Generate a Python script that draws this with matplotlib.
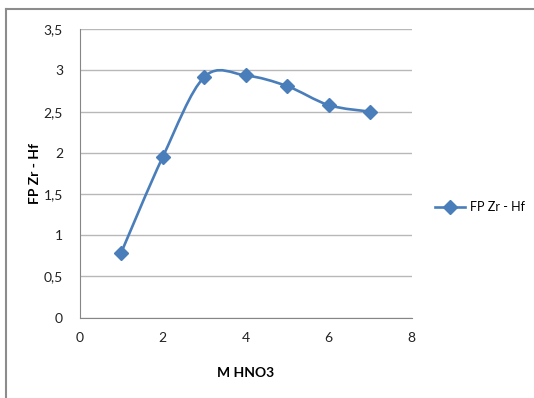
import matplotlib.pyplot as plt
from matplotlib.path import Path
from matplotlib.patches import PathPatch
from matplotlib.lines import Line2D

plt.rcParams['font.family'] = ['Lato', 'DejaVu Sans']

# FP Zr - Hf vs. HNO3 molarity
molarity = [1, 2, 3, 4, 5, 6, 7]
fp_zr_hf = [0.79, 1.95, 2.92, 2.94, 2.81, 2.58, 2.50]
y_ticks = [0, 0.5, 1, 1.5, 2, 2.5, 3, 3.5]
y_tick_labels = ['0', '0,5', '1', '1,5', '2', '2,5', '3', '3,5']
x_ticks = [0, 2, 4, 6, 8]

blue = '#4a7ebb'


def smooth_path(xs, ys, k=1 / 6):
    # bezier segments through the points, spreadsheet-style smoothing
    pts = list(zip(xs, ys))
    verts = [pts[0]]
    codes = [Path.MOVETO]
    n = len(pts)
    for i in range(n - 1):
        p0 = pts[max(i - 1, 0)]
        p1 = pts[i]
        p2 = pts[i + 1]
        p3 = pts[min(i + 2, n - 1)]
        c1 = (p1[0] + (p2[0] - p0[0]) * k, p1[1] + (p2[1] - p0[1]) * k)
        c2 = (p2[0] - (p3[0] - p1[0]) * k, p2[1] - (p3[1] - p1[1]) * k)
        verts += [c1, c2, p2]
        codes += [Path.CURVE4] * 3
    return Path(verts, codes)


fig = plt.figure(figsize=(5.34, 3.98), dpi=100)
ax = fig.add_axes([0.1493, 0.2018, 0.6217, 0.7246])

ax.add_patch(PathPatch(smooth_path(molarity, fp_zr_hf), facecolor='none',
                       edgecolor=blue, lw=1.9, capstyle='round', zorder=3))
ax.plot(molarity, fp_zr_hf, linestyle='none', marker='D', markersize=7.5,
        color=blue, zorder=4)

ax.set_xlim(0, 8)
ax.set_ylim(0, 3.5)
ax.set_xticks(x_ticks)
ax.set_yticks(y_ticks)
ax.set_yticklabels(y_tick_labels)
ax.tick_params(length=0, labelsize=10, colors='#222222')
ax.tick_params(axis='y', pad=12)
ax.tick_params(axis='x', pad=10)
ax.grid(axis='y', color='#b8b8b8', lw=1)
ax.set_axisbelow(True)
for side in ['top', 'right']:
    ax.spines[side].set_visible(False)
for side in ['left', 'bottom']:
    ax.spines[side].set_color('#868686')

ax.set_xlabel('M HNO3', fontweight='bold', fontsize=10, labelpad=17)
ax.set_ylabel('FP Zr - Hf', fontweight='bold', fontsize=10, labelpad=2)

handle = Line2D([], [], color=blue, lw=1.9, marker='D', markersize=7.5)
fig.legend([handle], ['FP Zr - Hf'], loc='center left',
           bbox_to_anchor=(0.815, 0.48), frameon=False, fontsize=9,
           borderpad=0, borderaxespad=0,
           handlelength=2.4, handletextpad=0.35)

# outer frame lines (top and left)
fig.add_artist(Line2D([0.0105, 1.0], [0.977, 0.977], color='#8c8c8c', lw=1.5,
                      transform=fig.transFigure))
fig.add_artist(Line2D([0.0105, 0.0105], [0.0, 0.977], color='#8c8c8c', lw=1.5,
                      transform=fig.transFigure))

fig.savefig('out.png', dpi=100)
